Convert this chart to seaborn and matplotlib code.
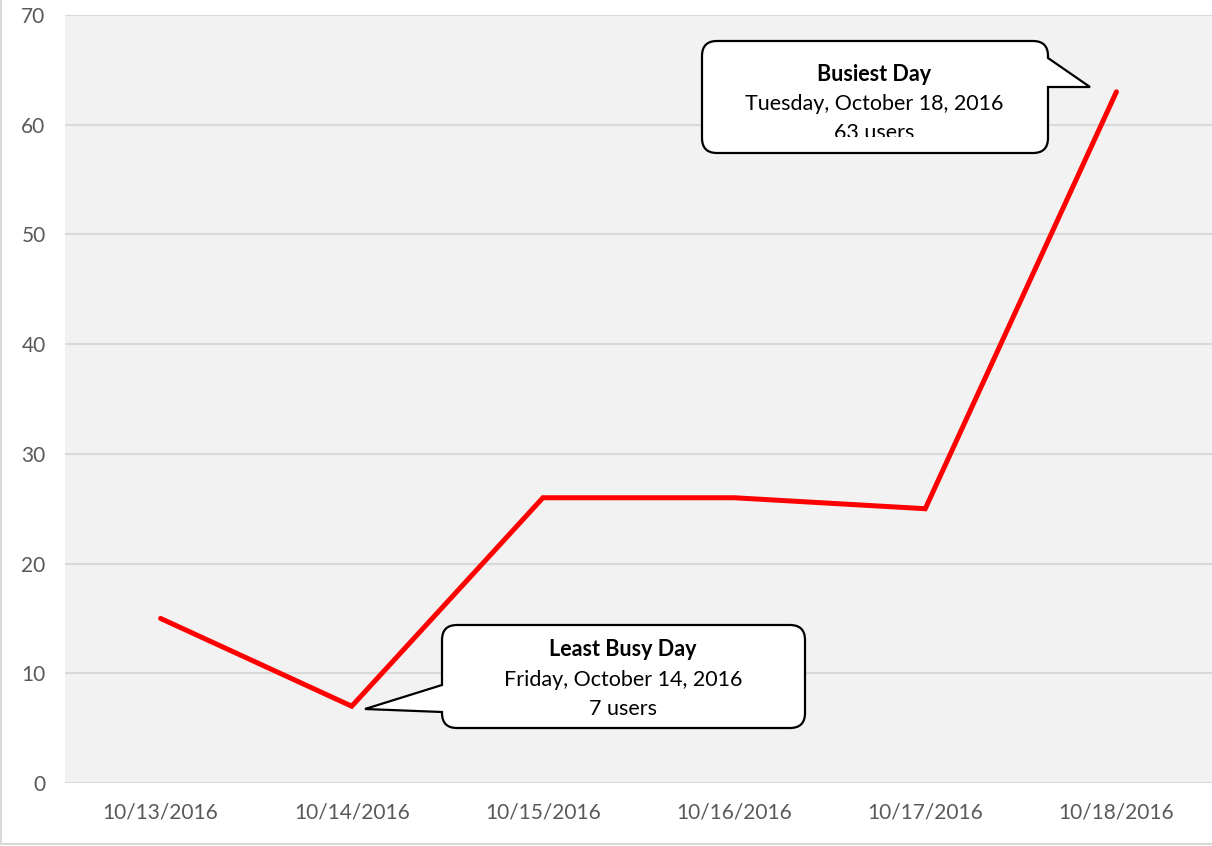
import matplotlib
matplotlib.use("Agg")
import matplotlib.pyplot as plt
import seaborn as sns
import pandas as pd
from matplotlib.path import Path
from matplotlib.patches import PathPatch, Rectangle
from matplotlib.lines import Line2D
from matplotlib.transforms import Affine2D

# ===============================
# DATA
# ===============================
dates = ["10/13/2016", "10/14/2016", "10/15/2016", "10/16/2016", "10/17/2016", "10/18/2016"]
users = [15, 7, 26, 26, 25, 63]
y_ticks = [0, 10, 20, 30, 40, 50, 60, 70]

busiest_text = ["Busiest Day", "Tuesday, October 18, 2016", "63 users"]
least_text = ["Least Busy Day", "Friday, October 14, 2016", "7 users"]

df = pd.DataFrame({"date": dates, "users": users})

W, H = 1212, 846
sns.set_style("white")
plt.rcParams["font.family"] = ["Lato", "DejaVu Sans"]

fig = plt.figure(figsize=(W / 100, H / 100), dpi=100)
ax = fig.add_axes([65 / W, 1 - 783 / H, 1 - 65 / W, (783 - 15) / H])
ax.set_facecolor("#F2F2F2")

sns.lineplot(data=df, x="date", y="users", color="#FF0000", linewidth=3.6,
             sort=False, ax=ax)
ax.lines[0].set_solid_joinstyle("miter")

ax.set_xlim(-0.5, len(dates) - 0.5)
ax.set_ylim(0, 70)
ax.set_yticks(y_ticks)
ax.yaxis.grid(True, color="#D9D9D9", linewidth=1.5)
ax.set_axisbelow(True)
for s in ax.spines.values():
    s.set_visible(False)
ax.tick_params(axis="both", length=0, labelsize=15, labelcolor="#595959")
ax.tick_params(axis="y", pad=14)
ax.tick_params(axis="x", pad=14)
ax.set_xlabel("")
ax.set_ylabel("")

# ===============================
# CALLOUTS (pixel coords, top-left origin)
# ===============================
px = Affine2D().scale(1, -1).translate(0, H)

# chart border (left and bottom only visible)
fig.add_artist(Line2D([1, 1], [0, 844], color="#D9D9D9", linewidth=1.5, transform=px))
fig.add_artist(Line2D([1, W], [844, 844], color="#D9D9D9", linewidth=1.5, transform=px))


def callout_path(x0, y0, x1, y1, tail, side, r=15):
    # rounded box with a tail on the left or right side
    verts, codes = [], []

    def line(p):
        verts.append(p); codes.append(Path.LINETO)

    def arc(c, p):
        verts.extend([c, p]); codes.extend([Path.CURVE3, Path.CURVE3])

    verts.append((x0 + r, y0)); codes.append(Path.MOVETO)
    line((x1 - r, y0))
    arc((x1, y0), (x1, y0 + r))
    if side == "right":
        for p in tail:
            line(p)
    line((x1, y1 - r))
    arc((x1, y1), (x1 - r, y1))
    line((x0 + r, y1))
    arc((x0, y1), (x0, y1 - r))
    if side == "left":
        for p in tail:
            line(p)
    line((x0, y0 + r))
    arc((x0, y0), (x0 + r, y0))
    codes.append(Path.CLOSEPOLY); verts.append((x0 + r, y0))
    return Path(verts, codes)


def callout(path):
    # fill below the text, outline above it
    fig.add_artist(PathPatch(path, facecolor="white", edgecolor="none",
                             transform=px, zorder=5))
    fig.add_artist(PathPatch(path, facecolor="none", edgecolor="black",
                             linewidth=1.6, transform=px, zorder=8,
                             joinstyle="miter"))


callout(callout_path(702, 41, 1048, 153, [(1048, 58), (1090, 87), (1048, 87)], "right"))
callout(callout_path(442, 625, 805, 728, [(442, 712), (365, 709), (442, 685)], "left"))

for i, t in enumerate(busiest_text):
    fig.text(874, 81 + 29 * i, t, transform=px, ha="center", va="baseline",
             fontsize=15.5, fontweight="bold" if i == 0 else "normal",
             color="black", zorder=6)
# the busiest-day text box is too short, so its last line is cut off
fig.add_artist(Rectangle((790, 136.5), 170, 15, facecolor="white", edgecolor="none",
                         transform=px, zorder=7))

for i, t in enumerate(least_text):
    fig.text(623, 656 + 29.5 * i, t, transform=px, ha="center", va="baseline",
             fontsize=15.5, fontweight="bold" if i == 0 else "normal",
             color="black", zorder=6)

fig.savefig("out.png", dpi=100)
